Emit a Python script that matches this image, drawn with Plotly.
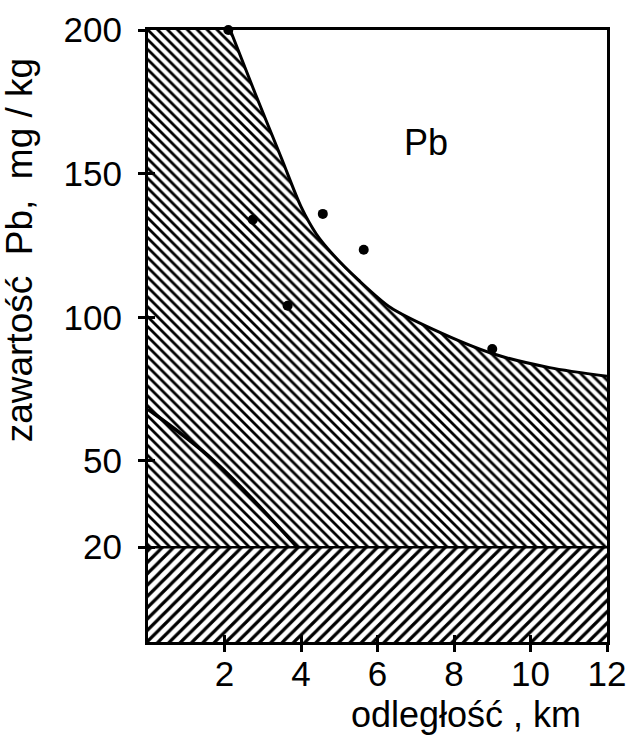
import plotly.graph_objects as go

# ---- data ----
curve_x = [2.15, 2.8, 3.5, 4.0, 4.4, 4.86, 5.5, 6.34, 7.47, 9.0, 10.5, 12.0]
curve_y = [200, 178, 155, 138.5, 129, 121.5, 113, 103.4, 95.7, 87.4, 82.5, 79.5]

points_x = [2.1, 2.74, 3.65, 4.57, 5.64, 9.0]
points_y = [200, 134, 104, 136, 123.5, 89]

inner_x = [0, 1.73, 3.9]
inner_y = [68, 50, 20]

band_level = 20
x_min, x_max = 0, 12
y_min, y_max = -13, 200

x_ticks = [2, 4, 6, 8, 10, 12]
y_ticks = [20, 50, 100, 150, 200]

FONT = "Liberation Sans, Arial, sans-serif"

fig = go.Figure()

# upper hatched region (between background level and curve)
fig.add_trace(go.Scatter(
    x=[x_min] + curve_x + [x_max, x_min],
    y=[y_max] + curve_y + [band_level, band_level],
    fill="toself", mode="lines", line=dict(width=0, color="black"),
    fillcolor="black",
    fillpattern=dict(shape="\\", size=7, solidity=0.4, fgcolor="black",
                     bgcolor="white", fillmode="replace"),
    hoverinfo="skip", showlegend=False))

# lower hatched band (background)
fig.add_trace(go.Scatter(
    x=[x_min, x_max, x_max, x_min],
    y=[y_min, y_min, band_level, band_level],
    fill="toself", mode="lines", line=dict(width=0, color="black"),
    fillcolor="black",
    fillpattern=dict(shape="/", size=8, solidity=0.4, fgcolor="black",
                     bgcolor="white", fillmode="replace"),
    hoverinfo="skip", showlegend=False))

# band boundary line
fig.add_trace(go.Scatter(x=[x_min, x_max], y=[band_level, band_level],
                         mode="lines", line=dict(color="black", width=2.5),
                         hoverinfo="skip", showlegend=False))

# curve
fig.add_trace(go.Scatter(x=curve_x, y=curve_y, mode="lines",
                         line=dict(color="black", width=3, shape="spline", smoothing=0.8),
                         hoverinfo="skip", showlegend=False))

# inner thick line
fig.add_trace(go.Scatter(x=inner_x, y=inner_y, mode="lines",
                         line=dict(color="black", width=3.5, shape="spline"),
                         hoverinfo="skip", showlegend=False))

# measured points
fig.add_trace(go.Scatter(x=points_x, y=points_y, mode="markers",
                         marker=dict(color="black", size=10),
                         cliponaxis=False, hoverinfo="skip", showlegend=False))

# invisible trace on overlay axes for inner tick marks
fig.add_trace(go.Scatter(x=[x_min], y=[y_min], xaxis="x2", yaxis="y2",
                         mode="markers", marker=dict(opacity=0),
                         hoverinfo="skip", showlegend=False))

fig.add_annotation(x=7.27, y=161, text="Pb", showarrow=False,
                   font=dict(family=FONT, size=36, color="black"))
fig.add_annotation(xref="paper", yref="paper", x=-0.281, y=0.64,
                   xanchor="center", yanchor="middle",
                   text="zawartość  Pb,  mg / kg", textangle=-90, showarrow=False,
                   font=dict(family=FONT, size=37, color="black"))
fig.add_annotation(xref="paper", yref="paper", x=0.693, y=-0.119,
                   xanchor="center", yanchor="middle",
                   text="odległość , km", showarrow=False,
                   font=dict(family=FONT, size=36, color="black"))

axis_common = dict(showgrid=False, zeroline=False, showline=True, linecolor="black",
                   linewidth=3, tickcolor="black", tickwidth=2.5, automargin=False)

fig.update_layout(
    width=626, height=748,
    margin=dict(l=148, r=19, t=30, b=106),
    paper_bgcolor="white", plot_bgcolor="white",
    font=dict(family=FONT, size=35, color="black"),
    xaxis=dict(range=[x_min, x_max], tickvals=x_ticks, ticks="outside", ticklen=7,
               mirror=True, ticklabelstandoff=-8, ticklabeloverflow="allow",
               **axis_common),
    yaxis=dict(range=[y_min, y_max], tickvals=y_ticks, ticks="outside", ticklen=7,
               mirror=True, ticklabelstandoff=9, ticklabeloverflow="allow",
               **axis_common),
    xaxis2=dict(range=[x_min, x_max], tickvals=x_ticks, ticks="inside", ticklen=7,
                overlaying="x", showticklabels=False, showgrid=False, zeroline=False,
                showline=False, tickcolor="black", tickwidth=2.5, side="bottom",
                automargin=False),
    yaxis2=dict(range=[y_min, y_max], tickvals=y_ticks, ticks="inside", ticklen=7,
                overlaying="y", showticklabels=False, showgrid=False, zeroline=False,
                showline=False, tickcolor="black", tickwidth=2.5, side="left",
                automargin=False),
)

fig.write_html("out.html", config={"displayModeBar": False},
               post_script="document.body.style.margin='0';")
